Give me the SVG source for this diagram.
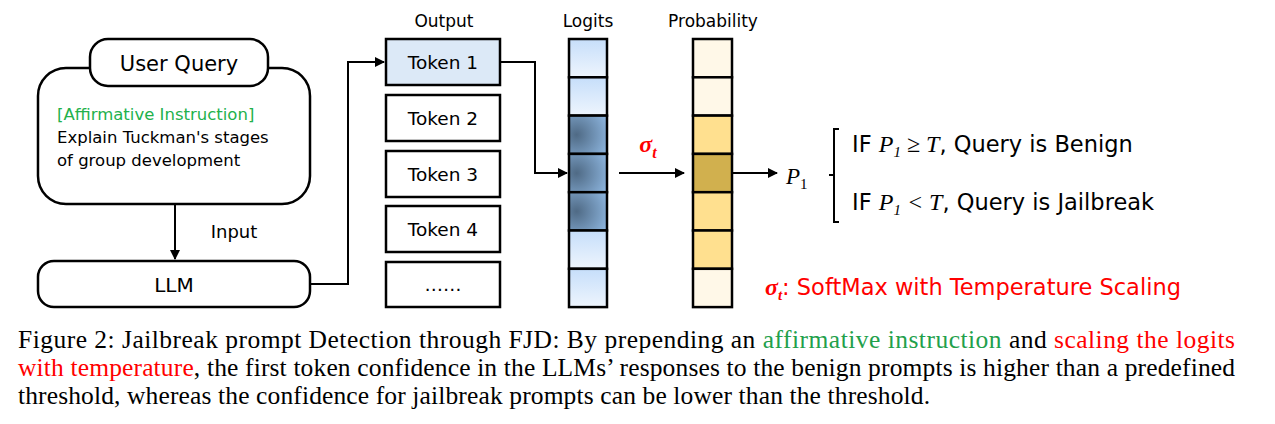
<svg xmlns="http://www.w3.org/2000/svg" width="1275" height="424" viewBox="0 0 1275 424">
<defs>
<style>
.s{font-family:"DejaVu Sans","Noto Sans",sans-serif;fill:#000}
.box{fill:#fff;stroke:#000;stroke-width:2.5}
.ln{fill:none;stroke:#000;stroke-width:2}
.cap{font-family:"Liberation Serif","Times New Roman",serif;font-size:25.5px;fill:#000}
.m{font-family:"Liberation Serif","Times New Roman",serif;font-style:italic}
.cell{stroke:#000;stroke-width:2.5}
</style>
<marker id="a" viewBox="0 0 10 10" refX="9" refY="5" markerWidth="5" markerHeight="5" orient="auto"><path d="M0,0L10,5L0,10z" fill="#000"/></marker>
<linearGradient id="lb" x1="0" y1="0" x2="0" y2="1"><stop offset="0" stop-color="#c6defa"/><stop offset="1" stop-color="#eef5fd"/></linearGradient>
<radialGradient id="db" cx="0.2" cy="0.5" r="0.9"><stop offset="0" stop-color="#4f6a85"/><stop offset="1" stop-color="#8db5de"/></radialGradient>
</defs>
<rect width="1275" height="424" fill="#fff"/>
<g id="query">
<rect class="box" x="38" y="68" width="272" height="136" rx="28"/>
<rect class="box" x="90" y="39" width="178" height="47" rx="18"/>
<text class="s" x="179" y="71" font-size="21" text-anchor="middle">User Query</text>
<text class="s" x="57" y="120" font-size="16.5" style="fill:#22b14c">[Affirmative Instruction]</text>
<text class="s" x="57" y="143" font-size="16.5">Explain Tuckman's stages</text>
<text class="s" x="57" y="166" font-size="16.5">of group development</text>
</g>
<g id="llm">
<rect class="box" x="38" y="261" width="272" height="46" rx="16"/>
<text class="s" x="174" y="292" font-size="20" text-anchor="middle">LLM</text>
</g>
<text class="s" x="234" y="238" font-size="18" text-anchor="middle">Input</text>
<g id="output">
<text class="s" x="444" y="27" font-size="17" text-anchor="middle">Output</text>
<rect class="box" x="386" y="39" width="114" height="46" style="fill:#dce9f7"/>
<text class="s" x="443" y="69" font-size="18.5" text-anchor="middle">Token 1</text>
<rect class="box" x="386" y="95" width="114" height="46"/>
<text class="s" x="443" y="125" font-size="18.5" text-anchor="middle">Token 2</text>
<rect class="box" x="386" y="151" width="114" height="46"/>
<text class="s" x="443" y="181" font-size="18.5" text-anchor="middle">Token 3</text>
<rect class="box" x="386" y="206" width="114" height="46"/>
<text class="s" x="443" y="236" font-size="18.5" text-anchor="middle">Token 4</text>
<rect class="box" x="386" y="262" width="114" height="45"/>
<text class="s" x="443" y="291" font-size="18.5" text-anchor="middle">……</text>
</g>
<g id="logits">
<text class="s" x="588" y="27" font-size="17" text-anchor="middle">Logits</text>
<rect class="cell" x="569" y="39" width="38" height="38.3" fill="url(#lb)"/>
<rect class="cell" x="569" y="77.3" width="38" height="38.3" fill="url(#lb)"/>
<rect class="cell" x="569" y="115.6" width="38" height="38.3" fill="url(#db)"/>
<rect class="cell" x="569" y="153.9" width="38" height="38.3" fill="url(#db)"/>
<rect class="cell" x="569" y="192.2" width="38" height="38.3" fill="url(#db)"/>
<rect class="cell" x="569" y="230.5" width="38" height="38.3" fill="url(#lb)"/>
<rect class="cell" x="569" y="268.8" width="38" height="38.3" fill="url(#lb)"/>
</g>
<g id="probability">
<text class="s" x="713" y="27" font-size="17" text-anchor="middle">Probability</text>
<rect class="cell" x="693" y="39" width="39" height="38.3" fill="#fff8e8"/>
<rect class="cell" x="693" y="77.3" width="39" height="38.3" fill="#fff8e8"/>
<rect class="cell" x="693" y="115.6" width="39" height="38.3" fill="#ffe08f"/>
<rect class="cell" x="693" y="153.9" width="39" height="38.3" fill="#d1b04e"/>
<rect class="cell" x="693" y="192.2" width="39" height="38.3" fill="#ffe08f"/>
<rect class="cell" x="693" y="230.5" width="39" height="38.3" fill="#ffe08f"/>
<rect class="cell" x="693" y="268.8" width="39" height="38.3" fill="#fff8e8"/>
</g>
<g id="connectors">
<path class="ln" d="M175,204V259" marker-end="url(#a)"/>
<path class="ln" d="M310,284H348V62H384" marker-end="url(#a)"/>
<path class="ln" d="M500,62H535V173H567" marker-end="url(#a)"/>
<path class="ln" d="M619,173H684" marker-end="url(#a)"/>
<path class="ln" d="M733,173H777" marker-end="url(#a)"/>
<path class="ln" d="M839,129H834V222H839M834,175H829"/>
</g>
<text x="648" y="152" font-size="24" font-weight="bold" class="m" fill="#f00" text-anchor="middle">σ<tspan font-size="16" dy="6">t</tspan></text>
<text x="786" y="184" font-size="23" class="m">P<tspan font-size="15" dy="5" font-style="normal">1</tspan></text>
<text x="852" y="152" font-size="22.5"><tspan class="s">IF </tspan><tspan class="m" font-size="24">P</tspan><tspan class="m" font-style="normal" font-size="15" dy="5">1</tspan><tspan class="m" font-style="normal" font-size="24" dy="-5"> ≥ </tspan><tspan class="m" font-size="24">T</tspan><tspan class="s">, Query is Benign</tspan></text>
<text x="852" y="210" font-size="22.5"><tspan class="s">IF </tspan><tspan class="m" font-size="24">P</tspan><tspan class="m" font-style="normal" font-size="15" dy="5">1</tspan><tspan class="m" font-style="normal" font-size="24" dy="-5"> &lt; </tspan><tspan class="m" font-size="24">T</tspan><tspan class="s">, Query is Jailbreak</tspan></text>
<text x="765" y="295" font-size="22.5" fill="#f00"><tspan class="m" font-weight="bold" font-size="24" fill="#f00">σ</tspan><tspan class="m" font-weight="bold" font-size="15" dy="5" fill="#f00">t</tspan><tspan class="s" dy="-5" style="fill:#f00">: SoftMax with Temperature Scaling</tspan></text>
<text class="cap" x="18" y="348" textLength="1217" lengthAdjust="spacing">Figure 2: Jailbreak prompt Detection through FJD: By prepending an <tspan fill="#22a04b">affirmative instruction</tspan> and <tspan fill="#f00">scaling the logits</tspan></text>
<text class="cap" x="18" y="376" textLength="1217" lengthAdjust="spacing"><tspan fill="#f00">with temperature</tspan>, the first token confidence in the LLMs’ responses to the benign prompts is higher than a predefined</text>
<text class="cap" x="18" y="404" textLength="912" lengthAdjust="spacing">threshold, whereas the confidence for jailbreak prompts can be lower than the threshold.</text>
</svg>
